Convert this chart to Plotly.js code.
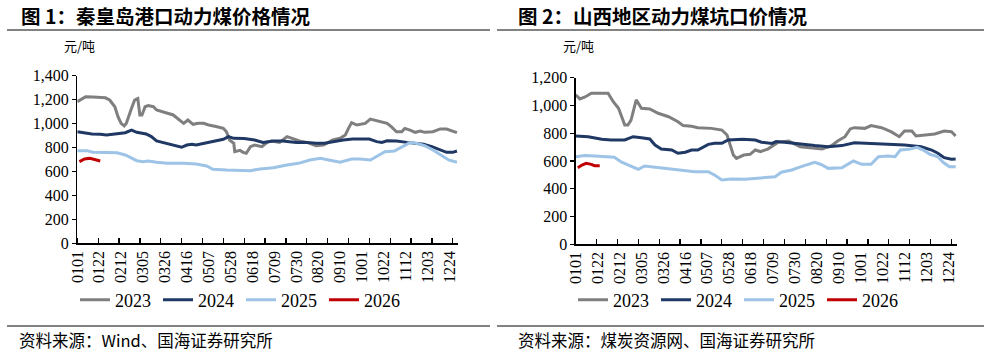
<!DOCTYPE html>
<html>
<head>
<meta charset="utf-8">
<script src="https://cdn.plot.ly/plotly-3.0.1.min.js"></script>
<style>
html,body{margin:0;padding:0;background:#fff;}
#chart{width:984px;height:354px;}
</style>
</head>
<body>
<div id="chart"></div>
<script>
// ---- data (day index from Jan 1) ----
var tickDays = [0,21,42,63,84,105,126,147,168,189,210,231,252,273,294,315,336,357];
var tickLabels = ['0101','0122','0212','0305','0326','0416','0507','0528','0618','0709','0730','0820','0910','1001','1022','1112','1203','1224'];
var seriesNames = ['2023','2024','2025','2026'];

// Panel 1: 秦皇岛港口动力煤价格
var qhd2023Day = [0,3,8,15,22,27,31,36,39,42,45,47,52,55,58,60,62,65,68,73,76,86,92,102,106,111,116,121,126,134,140,143,146,150,151,156,159,162,166,170,177,182,186,194,201,206,213,220,225,229,236,241,245,252,257,260,263,268,276,281,284,290,297,301,306,311,314,319,324,329,333,341,348,354,360,364];
var qhd2023Val = [1183,1200,1225,1222,1220,1215,1197,1141,1058,1002,980,1002,1128,1197,1210,1072,1072,1141,1150,1141,1114,1086,1072,1002,1030,994,1002,1002,988,974,961,932,863,835,765,776,760,752,807,821,807,843,855,843,891,877,855,843,827,815,821,843,863,877,905,960,1008,988,1002,1038,1030,1016,1002,974,932,932,960,946,927,938,927,932,955,955,938,924];
var qhd2024Day = [0,6,14,22,28,38,46,52,57,66,71,76,86,95,100,105,110,114,121,127,134,140,145,150,160,170,178,188,197,210,220,229,237,245,255,264,280,287,292,297,306,316,324,332,340,348,354,360,364];
var qhd2024Val = [932,924,913,910,905,916,924,946,927,913,891,855,835,813,802,821,827,821,835,849,863,869,891,877,875,863,843,855,855,843,843,835,835,849,863,871,871,849,843,857,855,843,835,827,807,779,760,760,771];
var qhd2025Day = [0,9,15,25,38,46,52,57,63,68,76,86,102,114,124,130,143,156,166,175,188,201,212,223,233,241,252,263,271,281,289,295,304,312,319,325,333,341,348,356,364];
var qhd2025Val = [774,774,760,757,757,738,710,690,682,688,677,668,668,663,646,618,612,612,607,621,632,654,668,696,710,696,677,704,704,696,738,765,771,807,841,835,815,779,738,696,677];
var qhd2026Day = [2,7,12,17,22];
var qhd2026Val = [682,704,710,696,688];

// Panel 2: 山西地区动力煤坑口价
var sx2023Day = [0,4,9,15,31,36,41,44,47,50,53,58,63,71,79,89,98,103,111,117,130,140,145,148,151,154,157,161,167,172,177,184,194,204,215,226,236,245,251,258,263,267,277,283,293,302,310,315,322,326,333,344,353,360,364];
var sx2023Val = [1076,1047,1061,1088,1088,1027,980,919,859,859,895,1040,980,975,944,919,883,855,850,840,835,823,787,715,643,619,630,643,648,679,668,686,735,744,703,692,686,710,744,775,831,840,835,855,840,811,775,816,816,780,787,795,816,811,780];
var sx2024Day = [0,12,25,34,47,55,63,71,76,82,92,98,105,111,117,127,133,140,146,160,172,178,188,192,200,216,229,242,255,267,283,299,315,331,341,347,353,360,364];
var sx2024Val = [780,775,756,752,752,775,767,759,715,686,679,656,663,679,679,720,727,727,751,757,751,735,727,740,735,720,711,703,711,732,727,720,715,703,679,656,624,612,614];
var sx2025Day = [0,9,18,31,37,44,53,60,66,76,89,101,114,127,133,140,149,162,178,191,197,207,216,229,235,242,255,266,274,283,290,299,306,311,319,327,333,339,347,352,358,364];
var sx2025Val = [631,639,636,631,627,591,559,540,564,555,547,535,523,523,499,463,470,468,480,487,519,535,559,591,575,547,551,600,576,576,631,636,631,679,684,699,679,650,631,591,559,559];
var sx2026Day = [2,6,10,15,18,23];
var sx2026Val = [552,571,583,576,566,566];

// ---- styling ----
var colors = ['#7f7f7f','#1f3864','#9dc3e6','#c00000'];
var serif = 'Liberation Serif, Times New Roman, serif';
var cjk = 'Noto Sans CJK SC, sans-serif';

function mk(x, y, i, xa, ya, lg) {
  return {x: x, y: y, type: 'scatter', mode: 'lines', name: seriesNames[i],
    line: {color: colors[i], width: 3, shape: 'linear'},
    xaxis: xa, yaxis: ya, legend: lg, showlegend: true, hoverinfo: 'skip'};
}

var traces = [
  mk(qhd2023Day, qhd2023Val, 0, 'x', 'y', 'legend'),
  mk(qhd2024Day, qhd2024Val, 1, 'x', 'y', 'legend'),
  mk(qhd2025Day, qhd2025Val, 2, 'x', 'y', 'legend'),
  mk(qhd2026Day, qhd2026Val, 3, 'x', 'y', 'legend'),
  mk(sx2023Day, sx2023Val, 0, 'x2', 'y2', 'legend2'),
  mk(sx2024Day, sx2024Val, 1, 'x2', 'y2', 'legend2'),
  mk(sx2025Day, sx2025Val, 2, 'x2', 'y2', 'legend2'),
  mk(sx2026Day, sx2026Val, 3, 'x2', 'y2', 'legend2')
];

function xax(domain) {
  return {domain: domain, range: [0, 365], showline: true, linecolor: '#000', linewidth: 1.3,
    showgrid: false, zeroline: false, tickmode: 'array', tickvals: tickDays, ticktext: tickLabels,
    ticks: '', tickangle: -90, tickfont: {family: serif, size: 16, color: '#000'},
    minor: {tickmode: 'linear', tick0: 0, dtick: 20, ticks: 'inside', ticklen: 5, tickwidth: 1.3, tickcolor: '#000', showgrid: false},
    fixedrange: true, automargin: false};
}
function yax(domain, max, anchor) {
  return {domain: domain, range: [0, max], dtick: 200, tickformat: ',', showline: true, linecolor: '#000', linewidth: 1.3,
    showgrid: false, zeroline: false, ticks: 'outside', ticklen: 4, tickwidth: 1.3, tickcolor: '#000',
    tickfont: {family: serif, size: 16, color: '#000'}, anchor: anchor, fixedrange: true, automargin: false};
}

var W = 984, H = 354;
function px(v){return v / W;}
function py(v){return 1 - v / H;}

function leg(x0) {
  return {orientation: 'h', x: px(x0), y: py(300), xanchor: 'left', yanchor: 'middle',
    font: {family: serif, size: 18, color: '#000'}, entrywidth: 38, entrywidthmode: 'pixels',
    bgcolor: 'rgba(0,0,0,0)', tracegroupgap: 0, itemclick: false};
}

var layout = {
  width: W, height: H, margin: {l: 0, r: 0, t: 0, b: 0, autoexpand: false},
  paper_bgcolor: '#fff', plot_bgcolor: 'rgba(0,0,0,0)',
  xaxis: Object.assign(xax([px(77.3), px(458)]), {anchor: 'y'}),
  yaxis: yax([py(243.3), py(75.7)], 1400, 'x'),
  xaxis2: Object.assign(xax([px(575.7), px(956.7)]), {anchor: 'y2'}),
  yaxis2: yax([py(244.3), py(77.7)], 1200, 'x2'),
  legend: leg(75),
  legend2: leg(573),
  showlegend: true,
  shapes: [
    {type: 'line', xref: 'paper', yref: 'paper', x0: px(7), x1: px(490), y0: py(30), y1: py(30), line: {color: '#595959', width: 1.5}},
    {type: 'line', xref: 'paper', yref: 'paper', x0: px(497), x1: px(984), y0: py(30), y1: py(30), line: {color: '#595959', width: 1.5}},
    {type: 'line', xref: 'paper', yref: 'paper', x0: px(7), x1: px(490), y0: py(326), y1: py(326), line: {color: '#595959', width: 1.5}},
    {type: 'line', xref: 'paper', yref: 'paper', x0: px(497), x1: px(984), y0: py(326), y1: py(326), line: {color: '#595959', width: 1.5}}
  ],
  annotations: [
    {text: '<b>图 1：秦皇岛港口动力煤价格情况</b>', xref: 'paper', yref: 'paper', x: px(19), y: py(15), xanchor: 'left', yanchor: 'middle', showarrow: false, font: {family: cjk, size: 19.5, color: '#000'}},
    {text: '<b>图 2：山西地区动力煤坑口价情况</b>', xref: 'paper', yref: 'paper', x: px(516), y: py(15), xanchor: 'left', yanchor: 'middle', showarrow: false, font: {family: cjk, size: 19.5, color: '#000'}},
    {text: '元/吨', xref: 'paper', yref: 'paper', x: px(62), y: py(45), xanchor: 'left', yanchor: 'middle', showarrow: false, font: {family: cjk, size: 13, color: '#000'}},
    {text: '元/吨', xref: 'paper', yref: 'paper', x: px(561), y: py(45), xanchor: 'left', yanchor: 'middle', showarrow: false, font: {family: cjk, size: 13, color: '#000'}},
    {text: '资料来源：Wind、国海证券研究所', xref: 'paper', yref: 'paper', x: px(17), y: py(340), xanchor: 'left', yanchor: 'middle', showarrow: false, font: {family: cjk, size: 16.5, color: '#000'}},
    {text: '资料来源：煤炭资源网、国海证券研究所', xref: 'paper', yref: 'paper', x: px(516), y: py(340), xanchor: 'left', yanchor: 'middle', showarrow: false, font: {family: cjk, size: 16.5, color: '#000'}}
  ]
};

Plotly.newPlot('chart', traces, layout, {staticPlot: true, displayModeBar: false});
</script>
</body>
</html>
